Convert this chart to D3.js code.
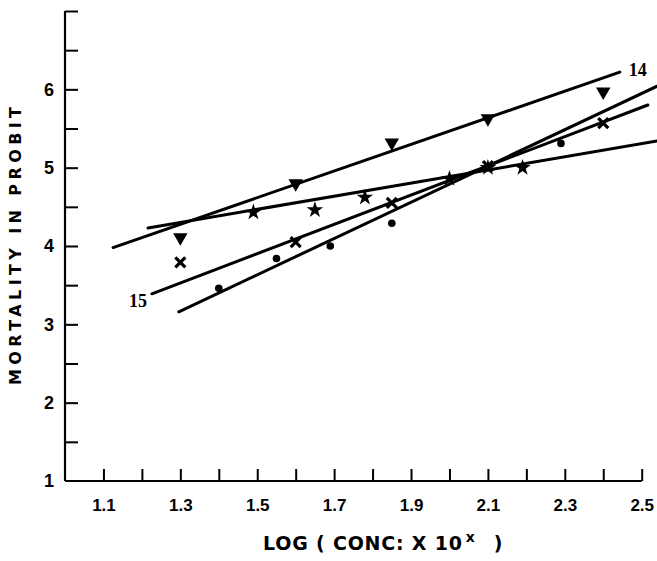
<!DOCTYPE html>
<html>
<head>
<meta charset="utf-8">
<script src="https://cdn.jsdelivr.net/npm/d3@7"></script>
<style>
  html, body { margin: 0; padding: 0; background: #fff; }
  svg { display: block; }
</style>
</head>
<body>
<svg id="chart" width="657" height="561"></svg>
<script>
// Probit mortality against log concentration, four test series with fitted lines
const xTicks = [1.1, 1.2, 1.3, 1.4, 1.5, 1.6, 1.7, 1.8, 1.9, 2.0, 2.1, 2.2, 2.3, 2.4, 2.5];
const xTickLabels = ["1.1", "", "1.3", "", "1.5", "", "1.7", "", "1.9", "", "2.1", "", "2.3", "", "2.5"];
const yTicks = [1, 1.5, 2, 2.5, 3, 3.5, 4, 4.5, 5, 5.5, 6, 6.5, 7];
const yTickLabels = ["1", "", "2", "", "3", "", "4", "", "5", "", "6", "", ""];

// Series 14 (down triangles)
const triX = [1.3, 1.6, 1.85, 2.1, 2.4];
const triY = [4.11, 4.80, 5.32, 5.63, 5.97];
// Star series
const starX = [1.49, 1.65, 1.78, 2.0, 2.1, 2.19];
const starY = [4.43, 4.46, 4.62, 4.86, 5.0, 5.0];
// Series 15 (crosses)
const crossX = [1.3, 1.6, 1.85, 2.1, 2.4];
const crossY = [3.79, 4.05, 4.55, 5.02, 5.57];
// Dot series
const dotX = [1.4, 1.55, 1.69, 1.85, 2.29];
const dotY = [3.46, 3.84, 4.0, 4.29, 5.31];

// Fitted probit lines: [x0, y0, x1, y1]
const fit14 = [1.125, 3.98, 2.443, 6.22];
const fitStar = [1.216, 4.23, 2.54, 5.34];
const fit15 = [1.226, 3.39, 2.516, 5.80];
const fitDot = [1.296, 3.16, 2.54, 6.04];

const svg = d3.select("#chart");
const ink = "#000";

const x = d3.scaleLinear().domain([1.0, 2.5]).range([65, 641.7]);
const y = d3.scaleLinear().domain([1, 7]).range([481, 11]);

// X axis with inward ticks
const xAxis = svg.append("g")
  .attr("transform", `translate(0,${y(1)})`)
  .call(d3.axisBottom(x)
    .tickValues(xTicks)
    .tickSize(-12)
    .tickSizeOuter(0)
    .tickPadding(18)
    .tickFormat((d, i) => xTickLabels[i]));
xAxis.select(".domain").attr("stroke", ink).attr("stroke-width", 2.2)
  .attr("d", `M${x(1.0)},0H${x(2.5)}`);
xAxis.selectAll(".tick line").attr("stroke", ink).attr("stroke-width", 2);
xAxis.selectAll(".tick text")
  .attr("fill", ink)
  .style("font-family", "'Liberation Sans', Arial, sans-serif")
  .style("font-weight", "bold")
  .style("font-size", "17px");

// Y axis with inward ticks
const yAxis = svg.append("g")
  .attr("transform", `translate(${x(1.0)},0)`)
  .call(d3.axisLeft(y)
    .tickValues(yTicks)
    .tickSize(-13)
    .tickSizeOuter(0)
    .tickPadding(11)
    .tickFormat((d, i) => yTickLabels[i]));
yAxis.select(".domain").attr("stroke", ink).attr("stroke-width", 2.2)
  .attr("d", `M0,${y(1)}V${y(7)}`);
yAxis.selectAll(".tick line").attr("stroke", ink).attr("stroke-width", 2)
  .filter(d => d === 1).remove();
yAxis.selectAll(".tick text")
  .attr("fill", ink)
  .style("font-family", "'Liberation Sans', Arial, sans-serif")
  .style("font-weight", "bold")
  .style("font-size", "18px");

// Axis titles
svg.append("text")
  .attr("transform", `translate(21,246) rotate(-90)`)
  .attr("text-anchor", "middle")
  .attr("textLength", 278)
  .attr("lengthAdjust", "spacing")
  .style("font-family", "'DejaVu Sans', sans-serif")
  .style("font-weight", "bold")
  .style("font-size", "16px")
  .attr("fill", ink)
  .text("MORTALITY IN PROBIT");

const xTitle = svg.append("text")
  .attr("x", 263)
  .attr("y", 550)
  .style("font-family", "'DejaVu Sans', sans-serif")
  .style("font-weight", "bold")
  .style("font-size", "19px")
  .attr("fill", ink);
xTitle.append("tspan").text("LOG ( CONC: X 10").attr("letter-spacing", "0.8px");
xTitle.append("tspan").text("x").attr("dx", 3).attr("dy", -8).style("font-size", "14px");
xTitle.append("tspan").text(")").attr("dx", 19).attr("dy", 8);

// Fitted lines
const fits = [fit14, fitStar, fit15, fitDot];
svg.append("g").selectAll("line")
  .data(fits)
  .join("line")
  .attr("x1", d => x(d[0]))
  .attr("y1", d => y(d[1]))
  .attr("x2", d => x(d[2]))
  .attr("y2", d => y(d[3]))
  .attr("stroke", ink)
  .attr("stroke-width", 3)
  .attr("stroke-linecap", "round");

// Line labels
const labelStyle = sel => sel
  .style("font-family", "'Liberation Serif', serif")
  .style("font-weight", "bold")
  .style("font-size", "18px")
  .attr("fill", ink);
svg.append("text")
  .attr("x", x(fit14[2]) + 9)
  .attr("y", y(fit14[3]) + 4)
  .call(labelStyle)
  .text("14");
svg.append("text")
  .attr("x", x(fit15[0]) - 5)
  .attr("y", y(fit15[1]) + 13)
  .attr("text-anchor", "end")
  .call(labelStyle)
  .text("15");

const zip = (xs, ys) => xs.map((v, i) => [v, ys[i]]);

// Down triangles
svg.append("g").selectAll("path")
  .data(zip(triX, triY))
  .join("path")
  .attr("d", d3.symbol(d3.symbolTriangle, 90))
  .attr("transform", d => `translate(${x(d[0])},${y(d[1])}) rotate(180)`)
  .attr("fill", ink);

// Stars
svg.append("g").selectAll("path")
  .data(zip(starX, starY))
  .join("path")
  .attr("d", d3.symbol(d3.symbolStar, 85))
  .attr("transform", d => `translate(${x(d[0])},${y(d[1])})`)
  .attr("fill", ink);

// Crosses
svg.append("g").selectAll("path")
  .data(zip(crossX, crossY))
  .join("path")
  .attr("d", "M-5,-5L5,5M-5,5L5,-5")
  .attr("transform", d => `translate(${x(d[0])},${y(d[1])})`)
  .attr("stroke", ink)
  .attr("stroke-width", 3.2)
  .attr("fill", "none");

// Dots
svg.append("g").selectAll("circle")
  .data(zip(dotX, dotY))
  .join("circle")
  .attr("cx", d => x(d[0]))
  .attr("cy", d => y(d[1]))
  .attr("r", 3.8)
  .attr("fill", ink);
</script>
</body>
</html>
